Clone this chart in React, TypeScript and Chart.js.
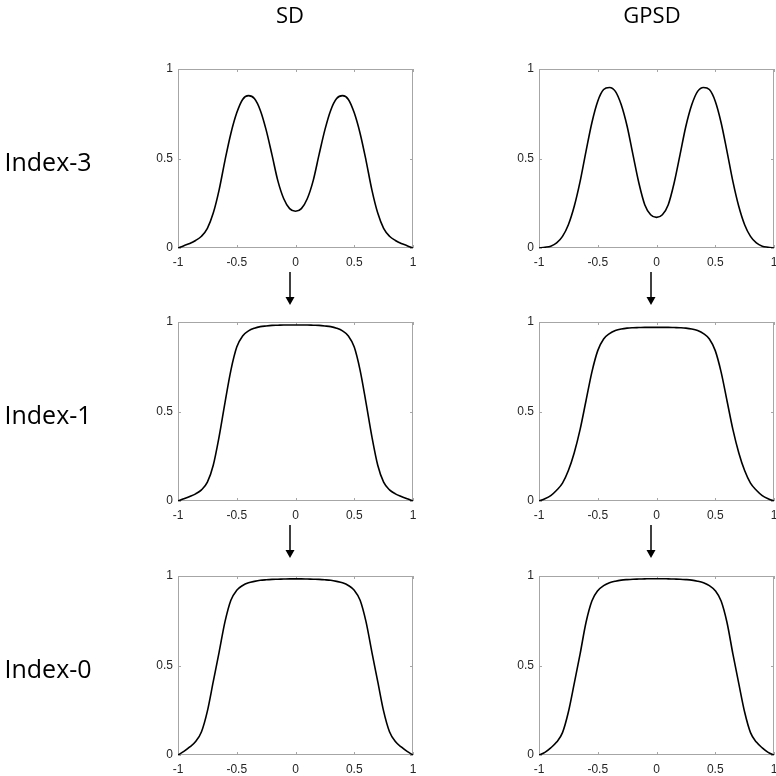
import React, { useEffect, useRef } from "react";
import { Chart, registerables } from "chart.js";

Chart.register(...registerables);

// ---------- data ----------
const COLUMN_TITLES = ["SD", "GPSD"];
const ROW_LABELS = ["Index-3", "Index-1", "Index-0"];

const X_VALUES = [
  -1, -0.95, -0.9, -0.85, -0.8, -0.75, -0.7, -0.65, -0.6, -0.55, -0.5,
  -0.45, -0.4, -0.35, -0.3, -0.25, -0.2, -0.15, -0.1, -0.05, 0,
  0.05, 0.1, 0.15, 0.2, 0.25, 0.3, 0.35, 0.4, 0.45, 0.5,
  0.55, 0.6, 0.65, 0.7, 0.75, 0.8, 0.85, 0.9, 0.95, 1,
];

const SD_INDEX3 = [
  0, 0.013, 0.025, 0.042, 0.066, 0.11, 0.195, 0.325, 0.49, 0.64, 0.755,
  0.83, 0.851, 0.835, 0.77, 0.66, 0.52, 0.375, 0.275, 0.22, 0.205,
  0.22, 0.275, 0.375, 0.52, 0.66, 0.77, 0.835, 0.851, 0.83, 0.755,
  0.64, 0.49, 0.325, 0.195, 0.11, 0.066, 0.042, 0.025, 0.013, 0,
];

const GPSD_INDEX3 = [
  0, 0.004, 0.01, 0.028, 0.065, 0.13, 0.233, 0.372, 0.54, 0.7, 0.82,
  0.885, 0.897, 0.875, 0.8, 0.68, 0.52, 0.363, 0.242, 0.186, 0.171,
  0.186, 0.242, 0.363, 0.52, 0.68, 0.8, 0.875, 0.897, 0.885, 0.82,
  0.7, 0.54, 0.372, 0.233, 0.13, 0.065, 0.028, 0.01, 0.004, 0,
];

const SD_INDEX1 = [
  0, 0.012, 0.025, 0.04, 0.062, 0.105, 0.2, 0.36, 0.55, 0.73, 0.86,
  0.922, 0.95, 0.965, 0.974, 0.978, 0.981, 0.982, 0.983, 0.983, 0.983,
  0.983, 0.983, 0.982, 0.981, 0.978, 0.974, 0.965, 0.95, 0.922, 0.86,
  0.73, 0.55, 0.36, 0.2, 0.105, 0.062, 0.04, 0.025, 0.012, 0,
];

const GPSD_INDEX1 = [
  0, 0.012, 0.03, 0.06, 0.1, 0.17, 0.27, 0.4, 0.56, 0.72, 0.84,
  0.905, 0.935, 0.952, 0.961, 0.966, 0.968, 0.969, 0.97, 0.97, 0.97,
  0.97, 0.97, 0.969, 0.968, 0.966, 0.961, 0.952, 0.935, 0.905, 0.84,
  0.72, 0.56, 0.4, 0.27, 0.17, 0.1, 0.06, 0.03, 0.012, 0,
];

const SD_INDEX0 = [
  0, 0.02, 0.045, 0.075, 0.13, 0.245, 0.41, 0.575, 0.745, 0.865, 0.92,
  0.947, 0.962, 0.97, 0.976, 0.979, 0.981, 0.982, 0.983, 0.984, 0.984,
  0.984, 0.983, 0.982, 0.981, 0.979, 0.976, 0.97, 0.962, 0.947, 0.92,
  0.865, 0.745, 0.575, 0.41, 0.245, 0.13, 0.075, 0.045, 0.02, 0,
];

const GPSD_INDEX0 = [
  0, 0.015, 0.04, 0.072, 0.125, 0.24, 0.4, 0.565, 0.74, 0.86, 0.918,
  0.946, 0.962, 0.971, 0.977, 0.98, 0.982, 0.983, 0.984, 0.985, 0.985,
  0.985, 0.984, 0.983, 0.982, 0.98, 0.977, 0.971, 0.962, 0.946, 0.918,
  0.86, 0.74, 0.565, 0.4, 0.24, 0.125, 0.072, 0.04, 0.015, 0,
];

const X_TICKS = [-1, -0.5, 0, 0.5, 1];
const Y_TICKS = [0, 0.5, 1];

// rows x columns of series
const SERIES = [
  [SD_INDEX3, GPSD_INDEX3],
  [SD_INDEX1, GPSD_INDEX1],
  [SD_INDEX0, GPSD_INDEX0],
];

// ---------- layout ----------
const COL_LEFT = [178, 539];
const ROW_TOP = [69, 322, 576];
const PLOT_W = 235;
const PLOT_H = 179;
const PAD_L = 40;
const PAD_T = 8;
const PAD_R = 12;
const PAD_B = 30;

const TICK_FONT = "'Liberation Sans', Arial, sans-serif";
const LABEL_FONT = "'Open Sans', 'Noto Sans', sans-serif";
const FRAME_COLOR = "#a6a6a6";
const TEXT_COLOR = "#262626";

const framePlugin = {
  id: "matlabFrame",
  beforeDatasetsDraw(chart: any) {
    const { ctx, chartArea, scales } = chart;
    const { left, top, right, bottom } = chartArea;
    ctx.save();
    ctx.strokeStyle = FRAME_COLOR;
    ctx.lineWidth = 1;
    ctx.strokeRect(left + 0.5, top + 0.5, right - left - 1, bottom - top - 1);
    ctx.beginPath();
    const tl = 3;
    X_TICKS.forEach((v) => {
      const px = Math.round(scales.x.getPixelForValue(v)) + 0.5;
      ctx.moveTo(px, bottom);
      ctx.lineTo(px, bottom - tl);
      ctx.moveTo(px, top);
      ctx.lineTo(px, top + tl);
    });
    Y_TICKS.forEach((v) => {
      const py = Math.round(scales.y.getPixelForValue(v)) + 0.5;
      ctx.moveTo(left, py);
      ctx.lineTo(left + tl, py);
      ctx.moveTo(right, py);
      ctx.lineTo(right - tl, py);
    });
    ctx.stroke();
    ctx.restore();
  },
};

function Panel({ values, left, top }: { values: number[]; left: number; top: number }) {
  const ref = useRef<HTMLCanvasElement | null>(null);
  useEffect(() => {
    if (!ref.current) return;
    const chart = new Chart(ref.current, {
      type: "line",
      data: {
        datasets: [
          {
            data: X_VALUES.map((x, i) => ({ x, y: values[i] })),
            borderColor: "#000000",
            borderWidth: 1.6,
            pointRadius: 0,
            fill: false,
            cubicInterpolationMode: "monotone",
          },
        ],
      },
      options: {
        responsive: false,
        animation: false,
        devicePixelRatio: 1,
        events: [],
        layout: { padding: { left: 0, top: PAD_T, right: PAD_R, bottom: 0 } },
        plugins: { legend: { display: false }, tooltip: { enabled: false } },
        scales: {
          x: {
            type: "linear",
            min: -1,
            max: 1,
            afterFit: (s: any) => {
              s.height = PAD_B;
              s.paddingLeft = 0;
              s.paddingRight = 0;
            },
            afterBuildTicks: (s: any) => {
              s.ticks = X_TICKS.map((v) => ({ value: v }));
            },
            grid: { display: false, drawTicks: false },
            border: { display: false },
            ticks: {
              autoSkip: false,
              maxRotation: 0,
              padding: 7,
              color: TEXT_COLOR,
              font: { family: TICK_FONT, size: 12 },
              callback: (v: any) => String(v),
            },
          },
          y: {
            type: "linear",
            min: 0,
            max: 1,
            afterFit: (s: any) => {
              s.width = PAD_L;
              s.paddingTop = 0;
              s.paddingBottom = 0;
            },
            afterBuildTicks: (s: any) => {
              s.ticks = Y_TICKS.map((v) => ({ value: v }));
            },
            grid: { display: false, drawTicks: false },
            border: { display: false },
            ticks: {
              autoSkip: false,
              padding: 5,
              color: TEXT_COLOR,
              font: { family: TICK_FONT, size: 12 },
              callback: (v: any) => String(v),
            },
          },
        },
      },
      plugins: [framePlugin],
    } as any);
    return () => chart.destroy();
  }, [values]);
  return (
    <canvas
      ref={ref}
      width={PLOT_W + PAD_L + PAD_R}
      height={PLOT_H + PAD_T + PAD_B}
      style={{
        position: "absolute",
        left: left - PAD_L,
        top: top - PAD_T,
        width: PLOT_W + PAD_L + PAD_R,
        height: PLOT_H + PAD_T + PAD_B,
      }}
    />
  );
}

function Arrow({ x, y1, y2 }: { x: number; y1: number; y2: number }) {
  return (
    <g>
      <line x1={x} y1={y1} x2={x} y2={y2 - 7} stroke="#000" strokeWidth={1.5} />
      <polygon points={`${x - 4.5},${y2 - 8} ${x + 4.5},${y2 - 8} ${x},${y2}`} fill="#000" />
    </g>
  );
}

export default function App() {
  const colCenters = [290, 652];
  const arrowX = [290, 651];
  return (
    <div
      style={{
        position: "fixed",
        left: 0,
        top: 0,
        width: 776,
        height: 776,
        overflow: "hidden",
        background: "#ffffff",
      }}
    >
      {SERIES.map((row, r) =>
        row.map((vals, c) => (
          <Panel key={`${r}-${c}`} values={vals} left={COL_LEFT[c]} top={ROW_TOP[r]} />
        ))
      )}
      <svg
        width={776}
        height={776}
        style={{ position: "absolute", left: 0, top: 0, pointerEvents: "none" }}
      >
        {COLUMN_TITLES.map((t, c) => (
          <text
            key={t}
            x={colCenters[c]}
            y={23}
            textAnchor="middle"
            fontFamily={LABEL_FONT}
            fontSize={22}
            fill="#000"
          >
            {t}
          </text>
        ))}
        {ROW_LABELS.map((t, r) => (
          <text
            key={t}
            x={4.5}
            y={ROW_TOP[r] + 102}
            fontFamily={LABEL_FONT}
            fontSize={25}
            fill="#000"
          >
            {t}
          </text>
        ))}
        {[0, 1].map((r) =>
          arrowX.map((x, c) => (
            <Arrow key={`a${r}-${c}`} x={x} y1={ROW_TOP[r] + PLOT_H + 24} y2={ROW_TOP[r] + PLOT_H + 57} />
          ))
        )}
      </svg>
    </div>
  );
}
